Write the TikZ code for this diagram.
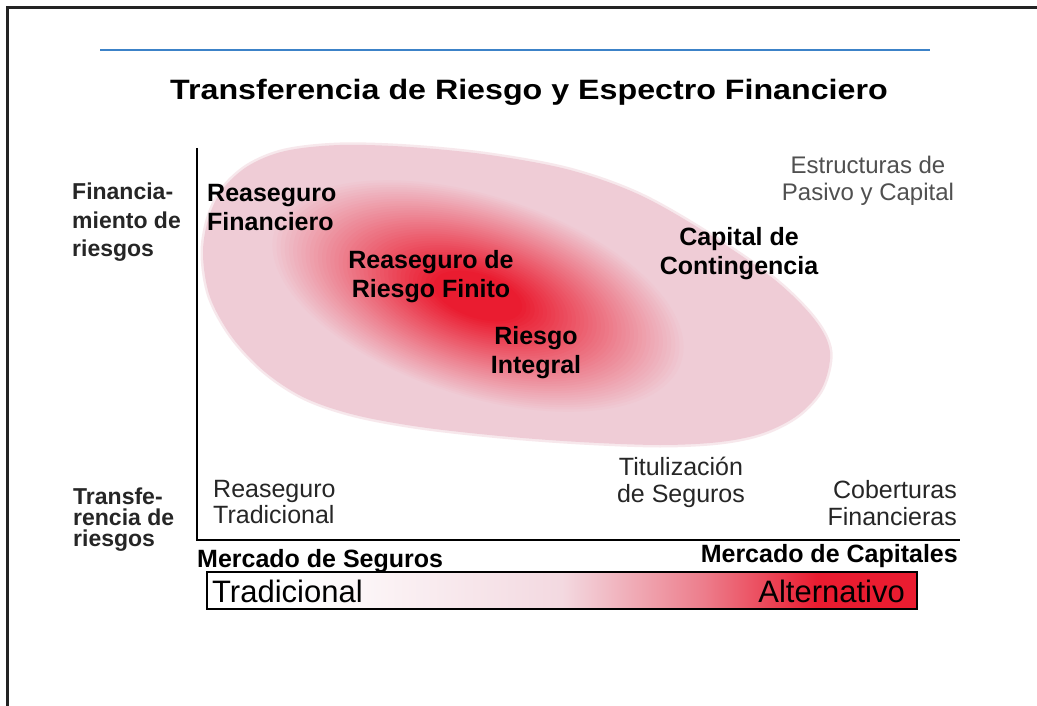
\documentclass[tikz,border=0pt]{standalone}
\usepackage{fontspec}
\setmainfont{Liberation Sans}
\definecolor{pinkbase}{RGB}{239,204,214}
\definecolor{hotred}{RGB}{234,28,48}
\definecolor{bluerule}{RGB}{60,130,200}
\definecolor{framegray}{RGB}{35,35,35}
\definecolor{softgray}{RGB}{80,80,80}
\pgfdeclarehorizontalshading{barshade}{100bp}{color(0bp)=(white); color(31bp)=(white); color(50bp)=(pinkbase!75!white); color(60bp)=(hotred!45!pinkbase); color(68bp)=(hotred); color(100bp)=(hotred)}
\begin{document}
\begin{tikzpicture}[x=1pt,y=-1pt,
  boldlbl/.style={inner sep=0pt, font=\fontsize{25}{29}\selectfont\bfseries, text=black},
  axislbl/.style={inner sep=0pt, font=\fontsize{23}{28.5}\selectfont\bfseries, text=black!85},
  plainlbl/.style={inner sep=0pt, font=\fontsize{25}{26}\selectfont, text=black!85},
  marketlbl/.style={inner sep=0pt, font=\fontsize{25}{29}\selectfont\bfseries, text=black},
  barlbl/.style={inner sep=0pt, font=\fontsize{31}{32}\selectfont, text=black}]
\useasboundingbox (0,0) rectangle (1037,706);
\fill[white] (0,0) rectangle (1037,706);
% frame
\draw[line width=3pt, framegray] (7,706) -- (7,8) -- (1037,8);
% blue rule
\draw[line width=2.5pt, bluerule] (100,50) -- (930,50);
% title
\node[inner sep=0pt, anchor=base west, font=\fontsize{28}{32}\selectfont\bfseries] (title) at (170,100)
  {\scalebox{1.15}[1]{Transferencia de Riesgo y Espectro Financiero}};
% egg-shaped cloud
\def\cloudpath{plot[smooth cycle, tension=0.55] coordinates {(203,255) (208,220) (222,190) (248,166) (285,151) (340,145) (410,147) (490,155) (570,170) (640,195) (710,235) (775,280) (815,320) (830,352) (822,388) (798,415) (763,433) (720,442) (660,445) (580,442) (500,436) (420,427) (355,415) (305,398) (265,372) (232,337) (210,297)}}
\draw[pinkbase, line width=5pt, opacity=0.45] \cloudpath;
\fill[pinkbase] \cloudpath;
% hot spot
\begin{scope}
  \clip \cloudpath;
  \begin{scope}[shift={(478,296)},rotate=-18]
    \foreach \i in {0,...,50}{
      \pgfmathsetmacro\t{\i/50}
      \pgfmathsetmacro\p{min(100,125*\t)}
      \pgfmathsetmacro\rx{215*(1-\t)+3}
      \pgfmathsetmacro\ry{100*(1-\t)+2}
      \fill[hotred!\p!pinkbase] (0,0) ellipse [x radius=\rx pt, y radius=\ry pt];
    }
  \end{scope}
\end{scope}
% axes
\coordinate (ytop) at (197,148);
\coordinate (origin) at (197,540);
\coordinate (xend) at (960,540);
\draw[line width=2pt, black] (ytop) -- (origin) -- (xend);
% axis labels
\node[axislbl, anchor=north west, align=left] (finan) at (72,183) {Financia-\\miento de\\riesgos};
\node[axislbl, anchor=north west, align=left, font=\fontsize{23}{21}\selectfont\bfseries] (transf) at (73,488) {Transfe-\\rencia de\\riesgos};
% inner labels
\node[boldlbl, anchor=north west, align=left] (reafin) at (207,184) {Reaseguro\\Financiero};
\node[boldlbl, anchor=north, align=center] (reafinito) at (431,250) {Reaseguro de\\Riesgo Finito};
\node[boldlbl, anchor=north, align=center] (integral) at (536,326) {Riesgo\\Integral};
\node[boldlbl, anchor=north, align=center] (contin) at (739,227) {Capital de\\Contingencia};
\node[inner sep=0pt, anchor=north, align=center, font=\fontsize{24}{27}\selectfont, text=softgray] (estruct) at (868,156) {Estructuras de\\Pasivo y Capital};
\node[plainlbl, anchor=north west, align=left] (reatrad) at (213,480) {Reaseguro\\Tradicional};
\node[plainlbl, anchor=north, align=center, font=\fontsize{25}{27}\selectfont] (titul) at (681,457) {Titulización\\de Seguros};
\node[plainlbl, anchor=north east, align=right, font=\fontsize{25}{27}\selectfont] (cobert) at (957,480) {Coberturas\\Financieras};
% market labels
\node[marketlbl, anchor=base west] (mseg) at (197,567) {Mercado de Seguros};
\node[marketlbl, anchor=base east] (mcap) at (958,562) {Mercado de Capitales};
% gradient bar
\shade[shading=barshade] (207,572) rectangle (917,609);
\draw[line width=1.5pt, black] (207,572) rectangle (917,609);
\node[barlbl, anchor=base west] (trad) at (212,602) {Tradicional};
\node[barlbl, anchor=base east] (alt) at (905,602) {Alternativo};
\end{tikzpicture}
\end{document}
